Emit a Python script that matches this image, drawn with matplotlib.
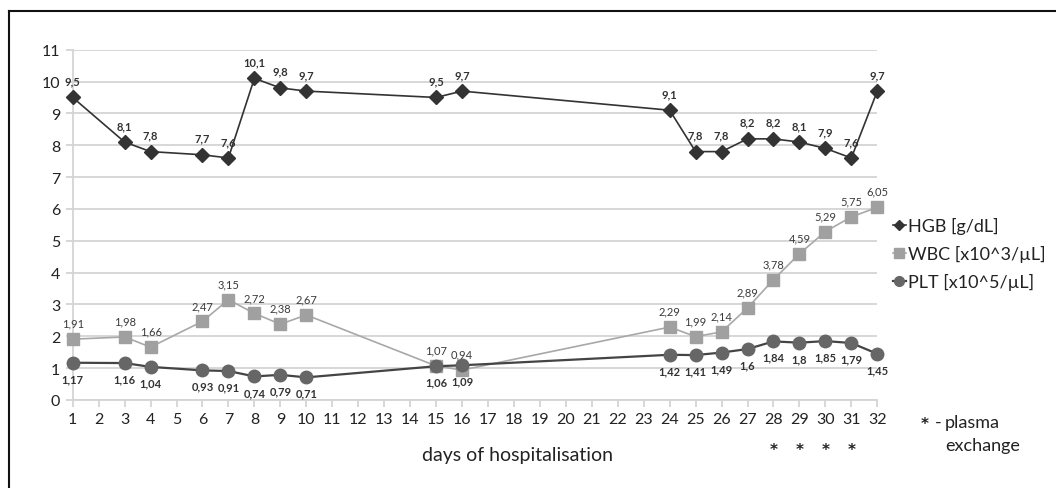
import matplotlib
matplotlib.use("Agg")
import matplotlib.pyplot as plt  # noqa: E402
from matplotlib.lines import Line2D  # noqa: E402
from matplotlib.transforms import blended_transform_factory  # noqa: E402

plt.rcParams["font.family"] = ["Lato", "DejaVu Sans"]

days = [1, 3, 4, 6, 7, 8, 9, 10, 15, 16, 24, 25, 26, 27, 28, 29, 30, 31, 32]
hgb = [9.5, 8.1, 7.8, 7.7, 7.6, 10.1, 9.8, 9.7, 9.5, 9.7,
       9.1, 7.8, 7.8, 8.2, 8.2, 8.1, 7.9, 7.6, 9.7]
wbc = [1.91, 1.98, 1.66, 2.47, 3.15, 2.72, 2.38, 2.67, 1.07, 0.94,
       2.29, 1.99, 2.14, 2.89, 3.78, 4.59, 5.29, 5.75, 6.05]
plt_vals = [1.17, 1.16, 1.04, 0.93, 0.91, 0.74, 0.79, 0.71, 1.06, 1.09,
            1.42, 1.41, 1.49, 1.6, 1.84, 1.8, 1.85, 1.79, 1.45]
exchange_days = [28, 29, 30, 31]
x_ticks = list(range(1, 33))
y_ticks = list(range(0, 12))

W, H = 1056, 489
fig = plt.figure(figsize=(W / 100, H / 100), dpi=100)
ax = fig.add_axes([72.7 / W, 1 - 401 / H, (877.3 - 72.7) / W, (401 - 50.7) / H])

grid_c = "#d4d4d4"
text_c = "#222222"
ax.set_xlim(1, 32)
ax.set_ylim(0, 11)
ax.set_xticks(x_ticks)
ax.set_yticks(y_ticks)
ax.grid(axis="y", color=grid_c, linewidth=1.3)
ax.set_axisbelow(True)
for side in ("top", "right"):
    ax.spines[side].set_visible(False)
for side in ("left", "bottom"):
    ax.spines[side].set_color(grid_c)
    ax.spines[side].set_linewidth(1.3)
ax.tick_params(axis="both", length=5, width=1.3, color=grid_c,
               labelsize=11.5, labelcolor=text_c, pad=4)

ax.plot(days, hgb, color="#333333", lw=1.2, marker="D", ms=7,
        mfc="#333333", mec="#333333", clip_on=False, zorder=5)
ax.plot(days, wbc, color="#a8a8a8", lw=1.2, marker="s", ms=9,
        mfc="#a0a0a0", mec="#a0a0a0", clip_on=False, zorder=4)
ax.plot(days, plt_vals, color="#444444", lw=1.6, marker="o", ms=9,
        mfc="#666666", mec="#666666", clip_on=False, zorder=4)


def fmt(v):
    return ("%g" % v).replace(".", ",")


for d, v in zip(days, hgb):
    ax.annotate(fmt(v), (d, v), xytext=(0, 8), textcoords="offset points",
                ha="center", va="bottom", fontsize=8, fontweight="bold",
                color="#333333", zorder=6)
for d, v in zip(days, wbc):
    ax.annotate(fmt(v), (d, v), xytext=(0, 7.5), textcoords="offset points",
                ha="center", va="bottom", fontsize=8, color="#3a3a3a", zorder=6)
for d, v in zip(days, plt_vals):
    ax.annotate(fmt(v), (d, v), xytext=(0, -7.5), textcoords="offset points",
                ha="center", va="top", fontsize=8, fontweight="bold",
                color="#333333", zorder=6)

trans = blended_transform_factory(ax.transData, fig.transFigure)
for d in exchange_days:
    ax.text(d, 1 - 451 / H, "*", transform=trans, ha="center", va="center",
            fontsize=11, fontweight="bold", family="DejaVu Sans", color=text_c)

fig.text(518 / W, 1 - 456 / H, "days of hospitalisation", ha="center",
         va="center", fontsize=14, color=text_c)

fig.text(925 / W, 1 - 425 / H, "*", ha="center", va="center",
         fontsize=11, fontweight="bold", family="DejaVu Sans", color=text_c)
fig.text(935 / W, 1 - 423 / H, "-", ha="left", va="center",
         fontsize=13, color=text_c)
fig.text(945 / W, 1 - 423 / H, "plasma", ha="left", va="center",
         fontsize=13, color=text_c)
fig.text(945 / W, 1 - 446 / H, "exchange", ha="left", va="center",
         fontsize=13, color=text_c)

handles = [
    Line2D([], [], color="#333333", lw=1.2, marker="D", ms=5.5, mfc="#333333", mec="#333333"),
    Line2D([], [], color="#a8a8a8", lw=1.2, marker="s", ms=7, mfc="#a0a0a0", mec="#a0a0a0"),
    Line2D([], [], color="#444444", lw=1.6, marker="o", ms=7, mfc="#666666", mec="#666666"),
]
fig.legend(handles, ["HGB [g/dL]", "WBC [x10^3/\u00b5L]", "PLT [x10^5/\u00b5L]"],
           loc="upper left", bbox_to_anchor=(893 / W, 1 - 218 / H),
           frameon=False, fontsize=13, handlelength=0.7, handletextpad=0.15,
           labelspacing=0.62, borderaxespad=0, borderpad=0,
           labelcolor=text_c)

# outer frame: only top and left edges visible
fig.add_artist(Line2D([9 / W, 9 / W], [0, 1 - 12 / H], transform=fig.transFigure,
                      color="#111111", lw=1.5))
fig.add_artist(Line2D([9 / W, 1], [1 - 12 / H, 1 - 12 / H], transform=fig.transFigure,
                      color="#111111", lw=1.5))

fig.savefig("out.png", dpi=100)
